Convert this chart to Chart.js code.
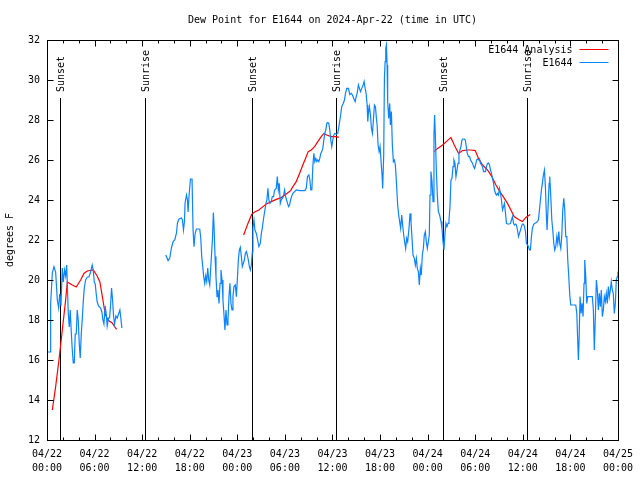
<!DOCTYPE html>
<html>
<head>
<meta charset="utf-8">
<script src="https://cdn.jsdelivr.net/npm/chart.js@4/dist/chart.umd.min.js"></script>
<style>
  html, body { margin: 0; padding: 0; background: #fff; }
  canvas { display: block; }
</style>
</head>
<body>
<canvas id="c" width="640" height="480"></canvas>
<script>
// ---- Data (hours since 2024-04-22 00:00 UTC, dew point in degrees F) ----
const chartTitle = 'Dew Point for E1644 on 2024-Apr-22 (time in UTC)';
const yAxisLabel = 'degrees F';
const seriesNames = ['E1644 Analysis', 'E1644'];

const blueTimes = [
  0.13,0.40,0.46,0.67,0.88,1.09,1.30,1.47,1.60,1.76,
  1.93,2.05,2.22,2.35,2.48,2.56,2.68,2.81,2.93,3.06,
  3.19,3.31,3.44,3.56,3.69,3.81,3.94,4.07,4.19,4.32,
  4.44,4.57,4.70,4.87,5.08,5.29,5.50,5.70,5.83,5.96,
  6.08,6.21,6.33,6.50,6.76,6.92,7.05,7.18,7.34,7.47,
  7.59,7.76,7.89,8.01,8.14,8.27,8.39,8.52,8.69,8.85,
  9.02,9.19,9.31,9.44,12.00,14.98,15.27,15.48,15.69,15.90,
  16.11,16.33,16.45,16.65,16.95,17.08,17.21,17.33,17.41,17.59,
  17.71,17.79,17.91,18.09,18.29,18.42,18.54,18.67,18.84,19.26,
  19.39,19.51,19.64,19.76,19.89,20.01,20.14,20.27,20.39,20.52,
  20.60,20.73,20.86,20.98,21.06,21.19,21.31,21.44,21.56,21.69,
  21.82,21.94,22.07,22.19,22.32,22.44,22.57,22.70,22.82,22.95,
  23.07,23.20,23.33,23.45,23.58,23.75,23.88,24.00,24.13,24.26,
  24.38,24.51,24.63,24.76,24.89,25.01,25.14,25.26,25.39,25.52,
  25.64,25.77,25.89,25.97,26.10,26.22,26.40,26.56,26.72,26.90,
  27.03,27.15,27.32,27.48,27.61,27.73,27.86,27.98,28.11,28.28,
  28.41,28.57,28.70,28.91,29.04,29.17,29.29,29.42,29.54,29.67,
  29.80,29.96,30.09,30.21,30.34,30.46,30.59,30.72,30.84,31.01,
  31.22,31.43,31.85,32.26,32.52,32.69,32.85,33.02,33.15,33.27,
  33.40,33.52,33.65,33.77,33.90,34.03,34.15,34.28,34.40,34.53,
  34.65,34.78,34.91,35.03,35.16,35.28,35.41,35.54,35.66,35.79,
  35.91,36.04,36.17,36.29,36.47,36.67,36.84,37.01,37.17,37.35,
  37.51,37.64,37.80,38.02,38.18,38.36,38.52,38.68,38.86,38.99,
  39.11,39.27,39.40,39.53,39.69,39.87,39.99,40.12,40.24,40.37,
  40.45,40.53,40.66,40.79,40.91,41.04,41.16,41.29,41.42,41.54,
  41.63,41.75,41.88,42.00,42.13,42.25,42.33,42.46,42.55,42.64,
  42.72,42.80,42.89,42.96,43.09,43.22,43.30,43.43,43.55,43.68,
  43.81,43.93,44.06,44.22,44.35,44.47,44.60,44.73,44.85,44.98,
  45.10,45.23,45.36,45.48,45.65,45.78,45.90,46.03,46.16,46.32,
  46.45,46.58,46.70,46.83,46.95,47.08,47.20,47.33,47.46,47.58,
  47.71,47.83,47.96,48.09,48.21,48.30,48.42,48.55,48.68,48.80,
  48.88,48.97,49.09,49.22,49.35,49.51,49.69,49.81,49.94,50.06,
  50.19,50.31,50.44,50.57,50.69,50.82,50.94,51.07,51.20,51.32,
  51.45,51.57,51.70,51.83,51.95,52.08,52.20,52.33,52.45,52.62,
  52.75,52.87,53.00,53.16,53.29,53.41,53.54,53.67,53.79,53.92,
  54.04,54.17,54.29,54.42,54.54,54.67,54.80,54.92,55.05,55.17,
  55.30,55.42,55.55,55.68,55.80,55.93,56.05,56.18,56.31,56.43,
  56.56,56.68,56.81,56.94,57.06,57.19,57.31,57.44,57.57,57.69,
  57.82,57.94,58.07,58.32,58.45,58.57,58.70,58.83,58.95,59.08,
  59.20,59.33,59.46,59.58,59.71,59.83,59.96,60.08,60.21,60.34,
  60.46,60.59,60.71,60.84,60.96,61.09,61.21,61.34,61.47,61.72,
  61.97,62.10,62.22,62.35,62.47,62.60,62.73,62.85,62.98,63.06,
  63.19,63.32,63.40,63.53,63.66,63.78,63.91,64.03,64.16,64.29,
  64.41,64.54,64.66,64.79,64.92,65.04,65.17,65.29,65.42,65.55,
  65.67,65.80,65.92,66.05,66.68,66.81,66.93,67.01,67.10,67.22,
  67.35,67.47,67.60,67.72,67.81,67.94,68.06,68.19,68.77,68.90,
  69.02,69.15,69.28,69.40,69.53,69.65,69.78,69.90,70.03,70.16,
  70.28,70.41,70.53,70.66,70.79,70.91,71.04,71.16,71.29,71.41,
  71.54,71.67,71.79,71.92,72.00
];
const blueValues = [
  16.4,16.4,18.8,20.35,20.67,20.4,19.0,18.6,19.3,18.7,
  20.6,19.9,20.5,20.2,20.75,19.85,18.35,17.65,18.5,17.4,
  16.5,15.85,15.85,17.3,17.3,18.5,18.0,16.8,16.1,17.3,
  18.0,18.9,19.6,20.0,20.15,20.15,20.4,20.75,20.5,19.9,
  19.8,19.3,18.9,18.7,18.6,18.4,18.0,17.8,18.7,18.3,
  17.7,18.1,18.1,18.7,19.6,19.0,18.2,17.8,18.2,18.1,
  18.3,18.5,18.1,17.6,null,21.25,20.97,21.1,21.6,21.92,
  22.0,22.35,22.85,23.05,23.1,23.0,22.5,22.9,23.85,24.25,
  24.0,23.4,24.2,25.05,25.05,22.5,21.67,22.3,22.55,22.55,
  22.1,21.17,20.67,20.17,19.83,20.2,19.92,20.6,20.0,19.75,
  20.3,21.17,22.0,23.37,22.75,21.17,20.17,19.17,19.5,18.83,
  19.83,20.5,20.0,19.0,18.25,17.5,18.5,17.75,18.0,19.17,
  19.83,18.83,18.5,19.17,19.67,19.75,19.17,20.0,21.0,21.5,
  21.63,21.17,20.67,20.83,21.0,21.33,21.42,21.25,21.0,20.67,
  20.5,20.75,21.4,22.6,23.0,22.5,22.33,22.0,21.67,21.83,
  22.33,22.6,23.1,23.5,23.83,24.0,24.58,24.0,23.83,23.92,
  24.17,24.17,24.5,24.58,25.17,24.5,24.83,23.83,24.0,24.08,
  24.17,24.5,24.17,24.0,23.83,23.67,23.75,24.0,24.17,24.33,
  24.42,24.5,24.47,24.47,24.47,24.58,25.17,25.25,25.0,24.5,
  24.5,25.67,26.33,25.92,26.08,25.92,26.0,25.92,26.08,26.33,
  26.42,26.58,27.0,27.33,27.5,27.83,27.87,27.83,27.5,27.0,
  26.67,27.0,27.25,27.33,27.3,27.33,27.75,28.2,28.67,28.83,
  29.0,29.33,29.58,29.58,29.28,29.33,29.25,29.08,28.92,29.17,
  29.33,29.75,29.58,29.42,29.58,29.75,29.92,29.58,29.33,28.75,
  27.92,28.33,28.67,28.25,27.58,27.33,28.0,28.75,28.67,28.08,
  27.75,26.75,26.42,26.67,25.92,25.25,24.58,26.25,30.08,30.92,
  31.58,31.75,30.75,28.92,28.08,28.83,27.75,28.42,26.75,25.92,
  26.0,25.75,24.92,23.75,23.25,22.92,22.58,23.25,22.75,22.25,
  21.92,21.58,22.08,21.92,22.58,23.33,22.92,22.08,21.25,21.08,
  20.75,21.08,20.58,20.42,19.75,20.58,20.25,21.25,21.58,22.25,
  22.42,21.92,21.58,21.92,22.25,24.25,25.42,24.92,23.92,27.25,
  28.25,27.25,25.58,24.25,23.42,23.25,22.92,22.58,21.92,21.5,
  22.33,22.83,22.67,22.83,23.0,23.67,25.0,25.08,25.67,26.0,
  25.83,25.17,25.5,25.83,26.33,26.5,26.67,27.0,27.05,27.05,
  27.0,26.67,26.33,26.17,26.17,26.0,25.92,25.83,25.67,25.58,
  25.75,26.0,26.05,26.0,26.05,25.83,25.75,25.67,25.42,25.42,
  25.42,25.67,25.83,25.85,25.75,25.5,25.33,25.08,24.83,24.5,
  24.33,24.25,24.33,24.25,24.58,24.33,24.0,23.5,23.67,23.83,
  23.33,22.83,22.8,22.8,22.83,23.0,23.17,22.83,22.75,22.8,
  22.75,22.5,22.17,22.33,22.5,22.67,22.8,22.8,22.67,22.42,
  21.83,21.75,21.67,21.5,21.5,22.17,22.58,22.75,22.83,22.87,
  23.0,23.5,24.0,24.5,24.83,25.25,25.5,24.67,23.17,22.5,
  23.67,24.83,25.17,24.17,23.0,22.5,21.83,21.5,21.67,22.17,
  21.83,22.42,21.83,21.58,22.25,23.5,24.08,23.5,22.17,22.17,
  21.0,20.17,19.25,18.75,18.75,18.33,16.92,16.0,17.0,19.17,
  18.33,18.83,18.17,19.83,21.0,20.17,18.83,19.17,19.17,18.5,
  16.5,18.17,20.0,19.5,18.5,19.33,18.67,19.5,18.17,18.5,
  19.17,18.92,19.33,18.83,19.67,19.17,19.5,19.92,19.5,19.33,
  18.33,18.83,20.0,20.17,20.42
];

const redTimes = [
  0.67,1.09,1.51,1.93,2.35,2.56,3.19,3.69,4.24,4.66,
  5.08,5.83,6.33,6.67,7.01,7.34,7.68,8.22,8.77,16.0,
  24.80,25.34,25.81,26.18,26.72,27.23,27.65,28.28,28.91,29.54,
  30.17,30.72,31.01,31.43,31.85,32.26,32.60,32.94,33.32,33.74,
  34.15,34.58,34.91,35.28,35.84,36.47,36.80,42.0,
  48.84,49.26,49.89,50.39,50.94,51.36,51.90,52.41,53.03,53.46,
  54.00,54.42,54.92,55.55,56.10,56.61,57.11,57.53,58.07,58.50,
  58.91,59.46,59.96,60.39,60.93
];
const redValues = [
  13.5,14.67,16.0,17.5,19.0,19.9,19.75,19.65,20.0,20.33,
  20.45,20.5,20.2,19.9,19.1,18.3,18.0,17.85,17.53,null,
  22.25,22.83,23.28,23.4,23.5,23.67,23.8,23.92,24.03,24.12,
  24.3,24.47,24.67,24.92,25.33,25.75,26.08,26.42,26.5,26.67,
  26.92,27.17,27.33,27.25,27.17,27.17,27.13,null,
  26.42,26.58,26.75,26.93,27.13,26.75,26.33,26.47,26.5,26.5,
  26.47,26.08,25.75,25.5,25.17,24.75,24.42,24.17,23.83,23.5,
  23.17,23.03,22.92,23.13,23.28
];

const sunHours  = [1.67, 12.40, 25.84, 36.45, 49.89, 60.58];
const sunLabels = ['Sunset', 'Sunrise', 'Sunset', 'Sunrise', 'Sunset', 'Sunrise'];

const xTickStepHours = 6;
const yMin = 12, yMax = 32, yStep = 2;

// ---- Chart ----
const FONT = '"DejaVu Sans Mono", "Liberation Mono", monospace';
const toPoints = (xs, ys) => xs.slice(0, Math.min(xs.length, ys.length)).map((x, i) => ({ x: x, y: ys[i] }));
const pad2 = n => String(n).padStart(2, '0');
function timeLabel(h) {
  const day = 22 + Math.floor(h / 24);
  const hr = Math.round(h % 24);
  return ['04/' + pad2(day), pad2(hr) + ':00'];
}

const decor = {
  id: 'decor',
  beforeDatasetsDraw(chart) {
    const { ctx, chartArea: a, scales: { x } } = chart;
    ctx.save();
    ctx.strokeStyle = '#000';
    ctx.fillStyle = '#000';
    ctx.lineWidth = 1;
    ctx.font = '10px ' + FONT;
    sunHours.forEach((h, i) => {
      const px = Math.round(x.getPixelForValue(h)) + 0.5;
      ctx.beginPath();
      ctx.moveTo(px, a.top + 58);
      ctx.lineTo(px, a.bottom);
      ctx.stroke();
      ctx.save();
      ctx.translate(px + 1, a.top + 52);
      ctx.rotate(-Math.PI / 2);
      ctx.textAlign = 'left';
      ctx.textBaseline = 'middle';
      ctx.fillText(sunLabels[i], 0, 0);
      ctx.restore();
    });
    ctx.restore();
  },
  afterDraw(chart) {
    const { ctx, chartArea: a, scales: { x, y } } = chart;
    ctx.save();
    ctx.strokeStyle = '#000';
    ctx.fillStyle = '#000';
    ctx.lineWidth = 1;
    const L = Math.round(a.left) + 0.5, R = Math.round(a.right) + 0.5;
    const T = Math.round(a.top) + 0.5, B = Math.round(a.bottom) + 0.5;
    ctx.strokeRect(L, T, R - L, B - T);
    ctx.beginPath();
    for (let h = 0; h <= 72; h += 2) {
      const px = Math.round(x.getPixelForValue(h)) + 0.5;
      const len = (h % xTickStepHours === 0) ? 6 : 3;
      ctx.moveTo(px, B); ctx.lineTo(px, B - len);
      ctx.moveTo(px, T); ctx.lineTo(px, T + len);
    }
    for (let v = yMin; v <= yMax; v += yStep) {
      const py = Math.round(y.getPixelForValue(v)) + 0.5;
      ctx.moveTo(L, py); ctx.lineTo(L + 6, py);
      ctx.moveTo(R, py); ctx.lineTo(R - 6, py);
    }
    ctx.stroke();

    ctx.font = '10px ' + FONT;
    // legend
    const ds = chart.data.datasets;
    ds.forEach((d, i) => {
      const yy = a.top + 10 + i * 13;
      ctx.textAlign = 'right';
      ctx.textBaseline = 'middle';
      ctx.fillStyle = '#000';
      ctx.fillText(d.label, R - 46, yy);
      ctx.strokeStyle = d.borderColor;
      ctx.beginPath();
      ctx.moveTo(R - 39, Math.round(yy) - 0.5);
      ctx.lineTo(R - 10, Math.round(yy) - 0.5);
      ctx.stroke();
    });
    // title
    ctx.fillStyle = '#000';
    ctx.textAlign = 'center';
    ctx.textBaseline = 'middle';
    ctx.fillText(chartTitle, (a.left + a.right) / 2, 20);
    // y axis label
    ctx.save();
    ctx.translate(10, (a.top + a.bottom) / 2);
    ctx.rotate(-Math.PI / 2);
    ctx.fillText(yAxisLabel, 0, 0);
    ctx.restore();
    ctx.restore();
  }
};

new Chart(document.getElementById('c'), {
  type: 'line',
  data: {
    datasets: [
      { label: seriesNames[0], data: toPoints(redTimes, redValues), borderColor: '#ff0000',
        borderWidth: 1.2, pointRadius: 0, tension: 0, spanGaps: false, order: 2 },
      { label: seriesNames[1], data: toPoints(blueTimes, blueValues), borderColor: '#0a84ff',
        borderWidth: 1.2, pointRadius: 0, tension: 0, spanGaps: false, order: 1 }
    ]
  },
  options: {
    responsive: false,
    animation: false,
    devicePixelRatio: 1,
    layout: { padding: { top: 40, right: 20, left: 0, bottom: 0 } },
    plugins: { legend: { display: false }, title: { display: false }, tooltip: { enabled: false } },
    scales: {
      x: {
        type: 'linear', min: 0, max: 72,
        afterFit: s => { s.height = 40; },
        grid: { display: false, drawTicks: false },
        border: { display: false },
        ticks: {
          stepSize: xTickStepHours, autoSkip: false, maxRotation: 0, minRotation: 0,
          padding: 7, color: '#000',
          font: { family: FONT, size: 10, lineHeight: 1.4 },
          callback: v => timeLabel(v)
        }
      },
      y: {
        min: yMin, max: yMax,
        afterFit: s => { s.width = 47; },
        grid: { display: false, drawTicks: false },
        border: { display: false },
        ticks: {
          stepSize: yStep, padding: 7, color: '#000',
          font: { family: FONT, size: 10 },
          callback: v => String(v)
        }
      }
    }
  },
  plugins: [decor]
});
</script>
</body>
</html>
